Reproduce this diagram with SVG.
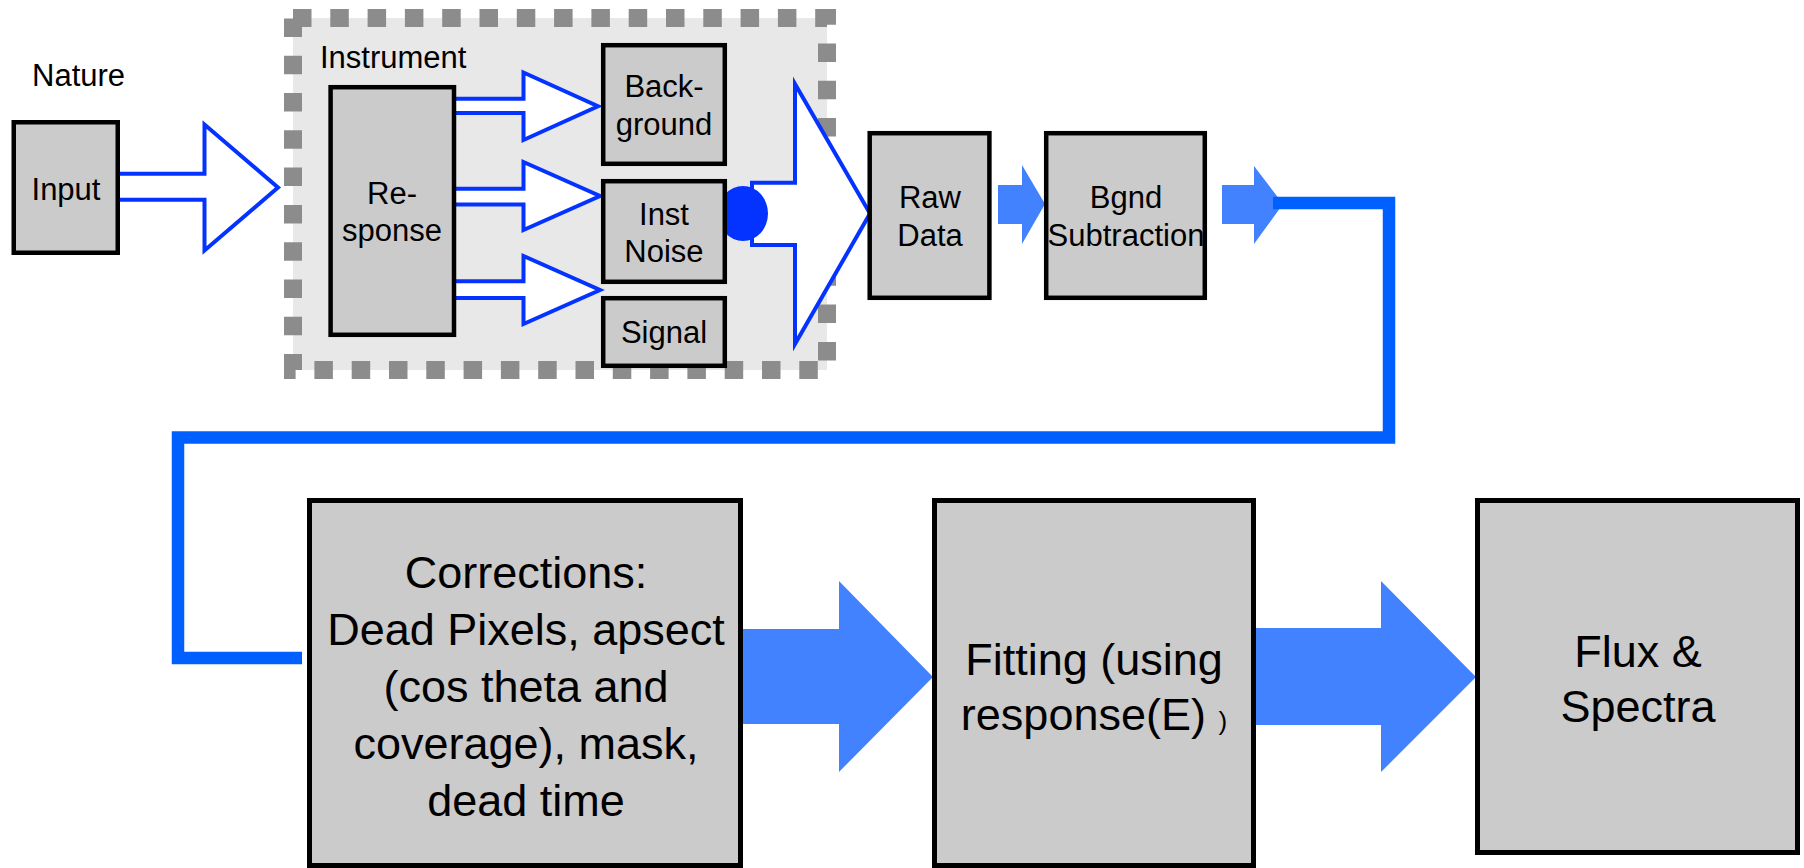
<svg xmlns="http://www.w3.org/2000/svg" width="1804" height="868" viewBox="0 0 1804 868">
<style>
  .box { fill: #cbcbcb; stroke: #000; stroke-width: 4.5; }
  .bigbox { fill: #cbcbcb; stroke: #000; stroke-width: 5; }
  .lbl { font-family: "Liberation Sans", Arial, sans-serif; font-size: 31px; fill: #000; }
  .big { font-family: "Liberation Sans", Arial, sans-serif; font-size: 45px; fill: #000; text-anchor: middle; }
  .mid { text-anchor: middle; }
  .outline { fill: #fff; stroke: #0433ff; stroke-width: 4; stroke-linejoin: miter; }
  .solid { fill: #4282ff; stroke: none; }
  .link { fill: none; stroke: #0060ff; stroke-width: 12.5; stroke-linejoin: miter; stroke-linecap: butt; }
</style>
<rect width="1804" height="868" fill="#fff"/>

<g id="instrument">
  <rect x="293" y="18" width="534" height="352" fill="#e8e8e8" stroke="#8c8c8c" stroke-width="18" stroke-dasharray="18.5 18.8"/>
  <text class="lbl" x="320" y="68">Instrument</text>
</g>

<g id="nature">
  <text class="lbl" x="32" y="86">Nature</text>
</g>

<g id="connectors">
  <path class="outline" d="M118,173.7 L204.5,173.7 L204.5,124.5 L278,187.5 L204.5,250.5 L204.5,199.7 L118,199.7"/>
  <path class="outline" d="M455,98.7 L523.5,98.7 L523.5,72.5 L598,106.3 L523.5,140 L523.5,113 L455,113"/>
  <path class="outline" d="M455,188.7 L523.5,188.7 L523.5,162 L600,196 L523.5,230 L523.5,204.5 L455,204.5"/>
  <path class="outline" d="M455,281.3 L523.5,281.3 L523.5,256 L600,290 L523.5,324 L523.5,298 L455,298"/>
  <path class="outline" d="M752,182.7 L795,182.7 L795,84 L870,213.5 L795,344 L795,245 L752,245 Z"/>
  <ellipse cx="743" cy="213.5" rx="25" ry="27.5" fill="#0433ff"/>
  <polygon class="solid" points="998,185 1022,185 1022,165 1045,204 1022,244 1022,224 998,224"/>
  <polygon class="solid" points="1222,185 1254,185 1254,166 1283,204 1254,244 1254,224 1222,224"/>
  <polygon class="solid" points="742,629 839,629 839,581 933,677 839,772 839,724 742,724"/>
  <polygon class="solid" points="1254,628 1381,628 1381,581 1476,677 1381,772 1381,725 1254,725"/>
  <polyline class="link" points="1273,203 1389,203 1389,437.5 178,437.5 178,658 302,658"/>
</g>

<g id="input">
  <rect class="box" x="13.75" y="122.25" width="104" height="130.5"/>
  <text class="lbl mid" x="66" y="200">Input</text>
</g>

<g id="response">
  <rect class="box" x="330.6" y="87.2" width="123.4" height="247.6"/>
  <text class="lbl mid" x="392" y="204">Re-</text>
  <text class="lbl mid" x="392" y="241">sponse</text>
</g>

<g id="background">
  <rect class="box" x="603.2" y="45.2" width="121.6" height="118.6"/>
  <text class="lbl mid" x="664" y="97">Back-</text>
  <text class="lbl mid" x="664" y="135">ground</text>
</g>

<g id="inst-noise">
  <rect class="box" x="603.2" y="181.2" width="121.6" height="100.6"/>
  <text class="lbl mid" x="664" y="225">Inst</text>
  <text class="lbl mid" x="664" y="262">Noise</text>
</g>

<g id="signal">
  <rect class="box" x="603.2" y="298.2" width="121.6" height="67.6"/>
  <text class="lbl mid" x="664" y="343">Signal</text>
</g>

<g id="raw-data">
  <rect class="box" x="869.7" y="133.2" width="119.7" height="164.6"/>
  <text class="lbl mid" x="930" y="208">Raw</text>
  <text class="lbl mid" x="930" y="246">Data</text>
</g>

<g id="bgnd-subtraction">
  <rect class="box" x="1046.2" y="133.2" width="158.6" height="164.6"/>
  <text class="lbl mid" x="1126" y="208">Bgnd</text>
  <text class="lbl mid" x="1126" y="246">Subtraction</text>
</g>

<g id="corrections">
  <rect class="bigbox" x="309.5" y="500.5" width="431" height="365"/>
  <text class="big" x="526" y="588">Corrections:</text>
  <text class="big" x="526" y="645">Dead Pixels, apsect</text>
  <text class="big" x="526" y="702">(cos theta and</text>
  <text class="big" x="526" y="759">coverage), mask,</text>
  <text class="big" x="526" y="816">dead time</text>
</g>

<g id="fitting">
  <rect class="bigbox" x="934.5" y="500.5" width="319" height="365"/>
  <text class="big" x="1094" y="675">Fitting (using</text>
  <text class="big" x="1094" y="730">response(E) <tspan font-size="26">)</tspan></text>
</g>

<g id="flux-spectra">
  <rect class="bigbox" x="1477.5" y="500.5" width="320" height="352"/>
  <text class="big" x="1638" y="667">Flux &amp;</text>
  <text class="big" x="1638" y="722">Spectra</text>
</g>
</svg>
